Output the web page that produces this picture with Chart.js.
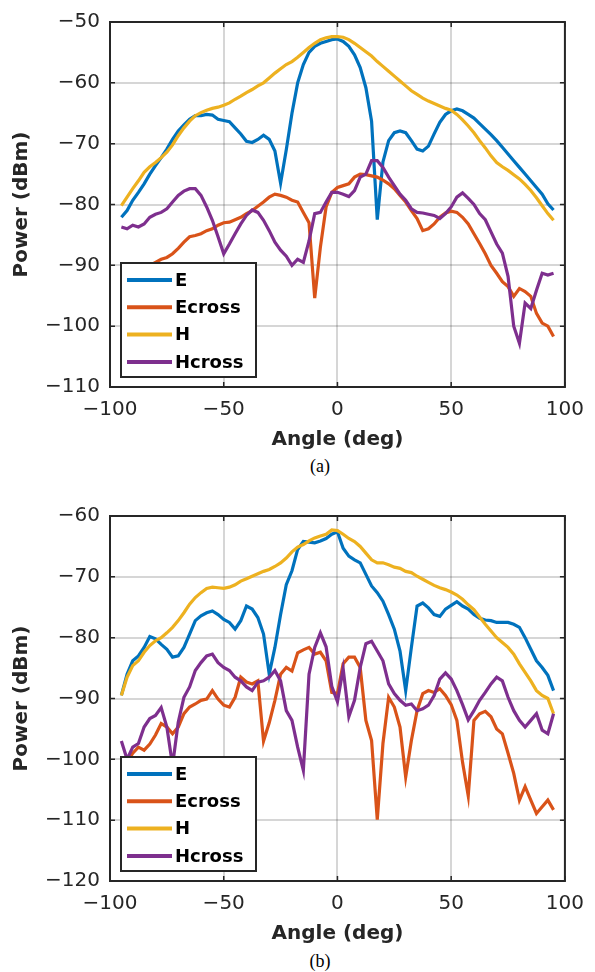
<!DOCTYPE html>
<html>
<head>
<meta charset="utf-8">
<script src="https://cdn.jsdelivr.net/npm/chart.js@4/dist/chart.umd.min.js"></script>
<style>
  body { margin: 0; background: #fff; }
  #wrap { position: relative; width: 595px; height: 972px; }
  canvas { position: absolute; left: 0; }
  .cap { position: absolute; left: 0; width: 640px; text-align: center;
         font-family: "Liberation Serif", "DejaVu Serif", serif; font-size: 18px; color: #000; }
</style>
</head>
<body>
<div id="wrap">
  <canvas id="chartA" width="595" height="455" style="top:0"></canvas>
  <div class="cap" style="top:456px">(a)</div>
  <canvas id="chartB" width="595" height="455" style="top:494px"></canvas>
  <div class="cap" style="top:951px">(b)</div>
</div>
<script>
// 角度 (deg) : -95 .. 95, 2.5 刻み
const angles = [
  -95, -92.5, -90, -87.5, -85, -82.5, -80, -77.5, -75, -72.5, -70, -67.5, -65, -62.5, -60, -57.5,
  -55, -52.5, -50, -47.5, -45, -42.5, -40, -37.5, -35, -32.5, -30, -27.5, -25, -22.5, -20, -17.5,
  -15, -12.5, -10, -7.5, -5, -2.5, 0, 2.5, 5, 7.5, 10, 12.5, 15, 17.5, 20, 22.5,
  25, 27.5, 30, 32.5, 35, 37.5, 40, 42.5, 45, 47.5, 50, 52.5, 55, 57.5,
  60, 62.5, 65, 67.5, 70, 72.5, 75, 77.5, 80, 82.5, 85, 87.5, 90, 92.5, 95
];

const seriesNames = ['E', 'Ecross', 'H', 'Hcross'];
const seriesColors = ['#0072BD', '#D95319', '#EDB120', '#7E2F8E'];

// ---- (a) ----
const eA = [
  -82.1, -81, -79.3, -78, -76.6, -75, -73.6, -72.3, -70.9, -69.3, -67.9, -66.9, -66, -65.4, -65.4, -65.2,
  -65.3, -66, -66.2, -66.4, -67.4, -68.4, -69.6, -69.8, -69.3, -68.6, -69.3, -71.2, -76.5, -71, -65, -60,
  -57, -55, -54, -53.5, -53.2, -52.9, -52.8, -53.2, -54, -55.4, -57.5, -60.8, -66.3, -82.5, -73, -69.5,
  -68.2, -67.9, -68.2, -69.5, -70.9, -71.2, -70.4, -68.4, -66.5, -65.2, -64.6, -64.3, -64.6, -65.2,
  -65.8, -66.7, -67.6, -68.5, -69.5, -70.6, -71.7, -72.8, -73.9, -75, -76.1, -77.2, -78.3, -79.9, -80.9
];
const ecrossA = [
  -93, -92.5, -91.8, -91, -90.5, -90, -89.5, -89, -88.7, -88.1, -87.2, -86.2, -85.3, -85.1, -84.8, -84.3,
  -84, -83.4, -83, -82.9, -82.5, -82.1, -81.5, -81, -80.3, -79.6, -78.8, -78.3, -78.5, -78.8, -79.3, -79.6,
  -81.3, -83, -95.4, -87, -80.4, -78, -77.2, -76.9, -76.6, -75.5, -75, -75.1, -75.3, -75.5, -76, -76.6,
  -77.4, -78.5, -79.6, -81, -82.3, -84.3, -84, -83.2, -82.1, -81.4, -81.1, -81.3, -82.1, -83.2,
  -84.8, -86.4, -88.1, -90, -91.3, -92.7, -93.5, -95.1, -93.8, -94.3, -95.1, -97.9, -99.5, -100, -101.7
];
const hA = [
  -80.2, -78.8, -77.4, -76.1, -74.7, -73.8, -73.1, -72.3, -71.4, -70.2, -68.7, -67.4, -66.3, -65.4, -64.9, -64.5,
  -64.2, -64, -63.7, -63.3, -62.7, -62.2, -61.6, -61.1, -60.5, -60, -59.2, -58.4, -57.7, -57, -56.5, -55.8,
  -55, -54.2, -53.5, -52.9, -52.6, -52.4, -52.4, -52.5, -52.9, -53.5, -54.2, -54.9, -55.6, -56.5, -57.3, -58.1,
  -58.9, -59.7, -60.5, -61.3, -61.9, -62.5, -63, -63.4, -63.8, -64.2, -64.5, -65.2, -66.1, -67.1,
  -68.2, -69.5, -70.7, -72, -73.1, -73.8, -74.4, -75.1, -75.8, -76.7, -77.7, -78.9, -80.2, -81.5, -82.6
];
const hcrossA = [
  -83.7, -84, -83.4, -83.7, -83.2, -82.1, -81.6, -81.3, -80.7, -79.6, -78.5, -77.8, -77.4, -77.4, -78.5, -80.4,
  -82.6, -85.3, -88.1, -86.5, -84.8, -83.2, -81.8, -80.9, -81.3, -82.6, -84.3, -86.2, -87.5, -88.5, -90, -89,
  -89.5, -86, -81.5, -81.3, -79.6, -78, -78, -78.3, -78.7, -77.7, -75.5, -75, -72.8, -72.8, -73.9, -75.5,
  -76.9, -78.3, -79.3, -80.7, -81.3, -81.4, -81.6, -81.8, -82.3, -81.5, -80.4, -78.8, -78.1, -79,
  -80, -81.5, -82.5, -84.5, -86.5, -88, -91.8, -100, -102.8, -96.2, -97.1, -94.1, -91.3, -91.6, -91.3
];

// ---- (b) ----
const eB = [
  -89.5, -86, -83.8, -83, -81.6, -79.8, -80.2, -81.1, -81.9, -83.2, -83, -81.6, -79.4, -77.2, -76.4, -75.9,
  -75.6, -76.2, -77, -77.5, -78.6, -77.2, -74.8, -75.3, -76.7, -79.4, -86, -81.6, -76.2, -71.3, -69, -65.5,
  -64.2, -64.3, -64.4, -64.1, -63.7, -63, -62.6, -65.3, -66.6, -67.2, -67.7, -69.6, -71.5, -72.6, -74, -76.2,
  -78.6, -82.2, -88.7, -81.6, -74.8, -74.3, -75.1, -76.2, -76.5, -75.3, -74.7, -74.1, -74.8, -75.3,
  -76.2, -76.8, -77.1, -77.2, -77.5, -77.5, -77.5, -77.8, -78.3, -80, -81.9, -83.8, -84.9, -86.2, -88.7
];
const ecrossB = [
  -100, -100.5, -99, -98, -98.5, -97.5, -96, -94.1, -94.7, -95.8, -94.7, -92.5, -91.4, -90.9, -90.3, -90.1,
  -88.7, -90.1, -91.1, -91.4, -89.8, -86.5, -87.3, -87.6, -87.1, -97, -94, -90.3, -86, -84.9, -85.5, -82.5,
  -82, -81.6, -82.7, -82.4, -83.8, -89, -89.2, -84.3, -83.2, -83.2, -84.9, -93.6, -96.9, -109.9, -97.4, -89.8,
  -91.4, -94.7, -102.9, -96.9, -92, -89.2, -88.7, -89, -88.4, -89.5, -91, -93.6, -100.5, -106,
  -93.6, -92.5, -92.1, -93, -95, -95.8, -99, -102.3, -106.7, -104.5, -106.7, -108.9, -107.8, -106.7, -108.3
];
const hB = [
  -89.5, -86.5, -84.6, -83.8, -82.4, -81.3, -80.5, -80, -79.2, -78.3, -77.2, -75.9, -74.5, -73.4, -72.6, -71.9,
  -71.7, -71.8, -71.9, -71.7, -71.3, -70.7, -70.3, -69.9, -69.5, -69.1, -68.8, -68.3, -67.7, -66.9, -65.9, -65.1,
  -64.7, -64.1, -63.6, -63.3, -63, -62.3, -62.4, -63, -63.7, -64.2, -65, -66.1, -67.2, -67.7, -67.7, -68,
  -68.4, -68.6, -69.1, -69.3, -69.9, -70.4, -70.9, -71.4, -71.8, -72.1, -72.5, -73, -73.7, -74.6,
  -75.4, -76.6, -77.8, -78.9, -80, -80.8, -81.6, -82.7, -84.3, -85.7, -87.1, -88.7, -89.5, -90, -92.5
];
const hcrossB = [
  -97, -100, -98, -97.4, -94.7, -93.3, -92.8, -91.5, -94.7, -101, -93.9, -89.8, -88.1, -85.4, -84.1, -83,
  -82.7, -84.1, -84.9, -85.4, -86.5, -87.1, -88.1, -88.7, -87.3, -87.1, -86.5, -85.4, -87.1, -92, -93.6, -98,
  -101.8, -86, -81.6, -79.2, -81.5, -88, -90.5, -85.1, -93, -90.3, -84.9, -81, -80.6, -82.2, -83.8, -87.6,
  -89.2, -90.3, -91.1, -90.9, -92, -91.7, -91.1, -89.5, -86.8, -85.8, -86.8, -88.7, -91, -93.5,
  -92, -90.3, -89, -87.6, -86.5, -87.1, -89.8, -92, -93.6, -94.7, -93.6, -92.5, -95.2, -95.8, -92.5
];

const FONT = 'DejaVu Sans';
const INK = '#262626';

// 枠線・内向き目盛り・凡例を描くプラグイン
const frameLegend = {
  id: 'frameLegend',
  afterDatasetsDraw(chart) {
    const { ctx, chartArea: a, scales: { x, y } } = chart;
    ctx.save();
    ctx.strokeStyle = INK;
    ctx.lineWidth = 1.5;
    ctx.beginPath();
    x.ticks.forEach(t => {
      const px = x.getPixelForValue(t.value);
      ctx.moveTo(px, a.bottom); ctx.lineTo(px, a.bottom - 5);
      ctx.moveTo(px, a.top); ctx.lineTo(px, a.top + 5);
    });
    y.ticks.forEach(t => {
      const py = y.getPixelForValue(t.value);
      ctx.moveTo(a.left, py); ctx.lineTo(a.left + 5, py);
      ctx.moveTo(a.right, py); ctx.lineTo(a.right - 5, py);
    });
    ctx.stroke();
    ctx.lineWidth = 2;
    ctx.strokeRect(a.left, a.top, a.right - a.left, a.bottom - a.top);

    // 凡例
    const bx = a.left + 11, by = a.bottom - 124, bw = 135, bh = 114;
    ctx.fillStyle = '#fff';
    ctx.fillRect(bx, by, bw, bh);
    ctx.lineWidth = 2;
    ctx.strokeStyle = INK;
    ctx.strokeRect(bx, by, bw, bh);
    ctx.font = 'bold 18px "' + FONT + '"';
    ctx.textBaseline = 'middle';
    seriesNames.forEach((name, i) => {
      const cy = by + 17 + i * 27.3;
      ctx.strokeStyle = seriesColors[i];
      ctx.lineWidth = 4;
      ctx.beginPath();
      ctx.moveTo(bx + 6, cy); ctx.lineTo(bx + 51, cy);
      ctx.stroke();
      ctx.fillStyle = '#000';
      ctx.fillText(name, bx + 54, cy + 1);
    });
    ctx.restore();
  }
};

function makeChart(id, seriesList, yMin, yMax) {
  const datasets = seriesList.map((vals, i) => ({
    label: seriesNames[i],
    data: angles.map((a, k) => ({ x: a, y: vals[k] })),
    borderColor: seriesColors[i],
    borderWidth: 3.2,
    pointRadius: 0,
    tension: 0,
    order: 4 - i
  }));
  const minus = v => String(v).replace('-', '\u2212');
  new Chart(document.getElementById(id), {
    type: 'line',
    data: { datasets },
    options: {
      responsive: false,
      animation: false,
      layout: { padding: { left: 0, right: 23, top: 22, bottom: 0 } },
      plugins: { legend: { display: false }, tooltip: { enabled: false } },
      scales: {
        x: {
          type: 'linear', min: -100, max: 100,
          ticks: { stepSize: 50, padding: 11, color: INK, font: { family: FONT, size: 20 }, callback: minus, maxRotation: 0 },
          grid: { color: 'rgba(0,0,0,0.16)', lineWidth: 2, drawTicks: false },
          border: { display: false },
          title: { display: true, text: 'Angle (deg)', color: INK, padding: { top: 0, bottom: 3 },
                   font: { family: FONT, size: 20, weight: 'bold' } },
          afterFit: s => { s.height = 68; }
        },
        y: {
          min: yMin, max: yMax,
          ticks: { stepSize: 10, padding: 10, color: INK, font: { family: FONT, size: 20 }, callback: minus },
          grid: { color: 'rgba(0,0,0,0.16)', lineWidth: 2, drawTicks: false },
          border: { display: false },
          title: { display: true, text: 'Power (dBm)', color: INK, padding: { top: 10, bottom: 0 },
                   font: { family: FONT, size: 20, weight: 'bold' } },
          afterFit: s => { s.width = 110; }
        }
      }
    },
    plugins: [frameLegend]
  });
}

makeChart('chartA', [eA, ecrossA, hA, hcrossA], -110, -50);
makeChart('chartB', [eB, ecrossB, hB, hcrossB], -120, -60);
</script>
</body>
</html>
